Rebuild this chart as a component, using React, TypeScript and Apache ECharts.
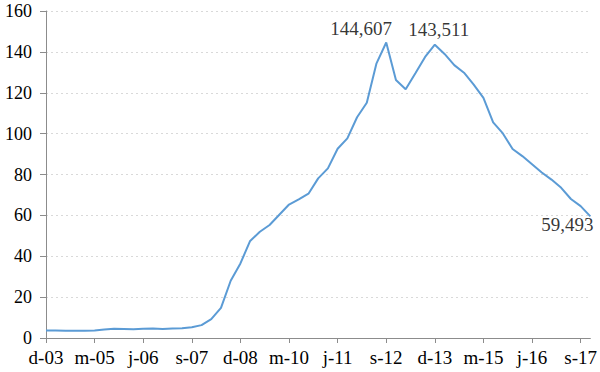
import React, { useEffect, useRef } from "react";
import * as echarts from "echarts";

const categories: string[] = [
  "d-03",
  "m-04", "j-04", "s-04", "d-04",
  "m-05", "j-05", "s-05", "d-05",
  "m-06", "j-06", "s-06", "d-06",
  "m-07", "j-07", "s-07", "d-07",
  "m-08", "j-08", "s-08", "d-08",
  "m-09", "j-09", "s-09", "d-09",
  "m-10", "j-10", "s-10", "d-10",
  "m-11", "j-11", "s-11", "d-11",
  "m-12", "j-12", "s-12", "d-12",
  "m-13", "j-13", "s-13", "d-13",
  "m-14", "j-14", "s-14", "d-14",
  "m-15", "j-15", "s-15", "d-15",
  "m-16", "j-16", "s-16", "d-16",
  "m-17", "j-17", "s-17", "d-17",
];

const values: number[] = [
  3.7, 3.7, 3.6, 3.5, 3.6, 3.7, 4.1, 4.5, 4.4, 4.3,
  4.5, 4.6, 4.4, 4.7, 4.8, 5.3, 6.3, 9.2, 14.7, 28.0,
  36.5, 47.5, 52.0, 55.3, 60.3, 65.3, 67.8, 70.6, 78.1, 83.0,
  92.6, 97.7, 108.0, 115.1, 134.4, 144.607, 126.2, 121.7, 129.5, 137.5,
  143.511, 139.0, 133.5, 129.8, 124.0, 117.5, 105.5, 100.1, 92.5, 89.0,
  85.0, 81.0, 77.5, 73.5, 68.0, 64.5, 59.493,
];

const labelIndices: number[] = [35, 40, 56];
const labelTexts: string[] = ["144,607", "143,511", "59,493"];

const FONT = "Liberation Serif";

export default function App() {
  const ref = useRef<HTMLDivElement>(null);

  useEffect(() => {
    if (!ref.current) return;
    const chart = echarts.init(ref.current, undefined, { renderer: "svg" });

    const labelPlacement: any[] = [
      { position: "top", distance: 3, offset: [-25, 0] },
      { position: "top", distance: 5, offset: [4, 0] },
      { position: "bottom", distance: 0, offset: [-23, -2] },
    ];

    const labelData = labelIndices.map((idx, k) => ({
      value: [idx, values[idx]],
      label: {
        show: true,
        formatter: labelTexts[k],
        color: "#000",
        fontSize: 19,
        fontFamily: FONT,
        ...labelPlacement[k],
      },
    }));

    chart.setOption({
      animation: false,
      backgroundColor: "#fff",
      textStyle: { fontFamily: FONT },
      grid: { left: 46, right: 4, top: 11, bottom: 34, containLabel: false },
      xAxis: {
        type: "category",
        data: categories,
        boundaryGap: false,
        axisLine: { show: true, lineStyle: { color: "#8c8c8c", width: 1 } },
        axisTick: {
          show: true,
          interval: 4,
          length: 5,
          lineStyle: { color: "#8c8c8c" },
        },
        axisLabel: {
          interval: 4,
          color: "#000",
          fontSize: 19,
          fontFamily: FONT,
          margin: 10,
        },
        splitLine: { show: false },
      },
      yAxis: {
        type: "value",
        min: 0,
        max: 160,
        interval: 20,
        axisLine: { show: true, lineStyle: { color: "#8c8c8c", width: 1 } },
        axisTick: { show: true, length: 6, lineStyle: { color: "#8c8c8c" } },
        axisLabel: {
          color: "#000",
          fontSize: 18,
          fontFamily: FONT,
          margin: 14,
        },
        splitLine: {
          show: true,
          lineStyle: { color: "#d9d9d9", type: [2, 3], width: 1 },
        },
      },
      series: [
        {
          type: "line",
          data: values,
          symbol: "none",
          lineStyle: { color: "#5b9bd5", width: 2 },
          emphasis: { disabled: true },
        },
        {
          type: "scatter",
          data: labelData,
          symbolSize: 2,
          itemStyle: { color: "rgba(0,0,0,0)" },
          emphasis: { disabled: true },
          z: 5,
        },
      ],
    });

    return () => chart.dispose();
  }, []);

  return (
    <div
      ref={ref}
      style={{ position: "fixed", left: 0, top: 0, width: 600, height: 372, background: "#fff" }}
    />
  );
}
